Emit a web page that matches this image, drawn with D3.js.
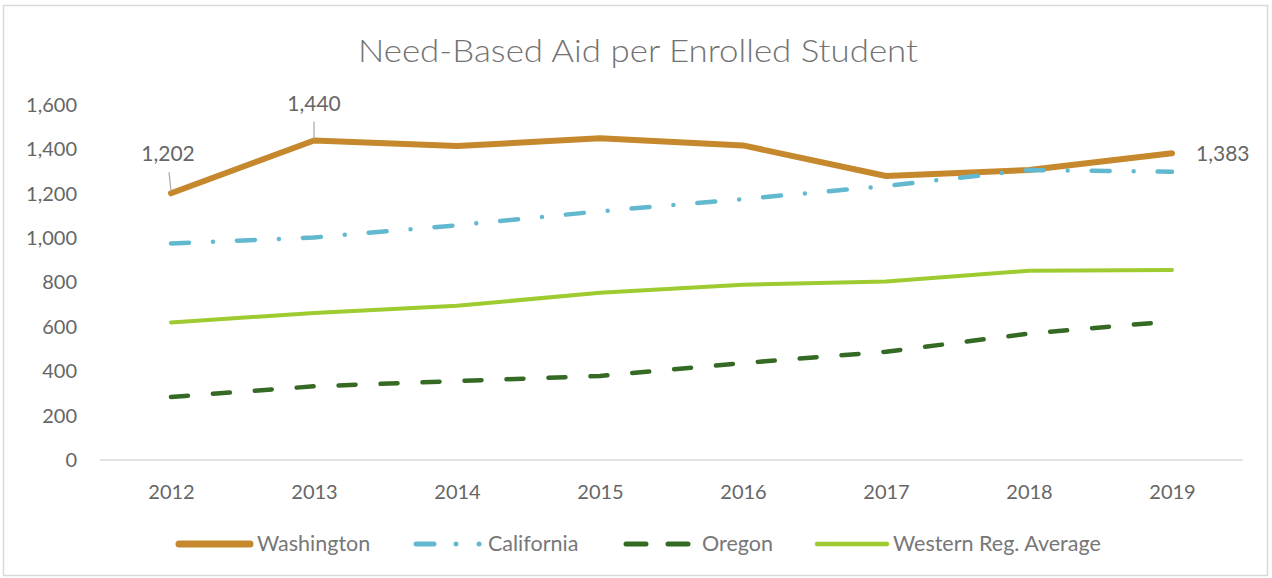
<!DOCTYPE html>
<html>
<head>
<meta charset="utf-8">
<script src="https://cdn.jsdelivr.net/npm/d3@7/dist/d3.min.js"></script>
<style>
  html, body { margin: 0; padding: 0; background: #fff; }
  svg { display: block; font-family: Lato, "Open Sans", sans-serif; }
</style>
</head>
<body>
<svg id="chart" width="1272" height="578"></svg>
<script>
const years = ["2012", "2013", "2014", "2015", "2016", "2017", "2018", "2019"];
const washington = [1202, 1440, 1415, 1450, 1418, 1280, 1307, 1383];
const california = [976, 1003, 1058, 1121, 1176, 1235, 1307, 1299];
const oregon = [284, 332, 356, 379, 437, 488, 570, 625];
const western = [620, 663, 695, 754, 790, 804, 853, 856];
const yTicks = [0, 200, 400, 600, 800, 1000, 1200, 1400, 1600];
const title = "Need-Based Aid per Enrolled Student";
const seriesNames = ["Washington", "California", "Oregon", "Western Reg. Average"];

const series = [
  { name: seriesNames[0], values: washington, color: "#C5882C", width: 6, dash: null },
  { name: seriesNames[1], values: california, color: "#62B9CF", width: 4.5, dash: "18,24,0,24" },
  { name: seriesNames[2], values: oregon, color: "#346A24", width: 4.5, dash: "17,25" },
  { name: seriesNames[3], values: western, color: "#9ECB30", width: 4, dash: null }
];

const svg = d3.select("#chart");

// chart border
svg.append("rect")
  .attr("x", 3.5).attr("y", 5.5).attr("width", 1264).attr("height", 570)
  .attr("fill", "#fff").attr("stroke", "#d9d9d9").attr("stroke-width", 1.5);

const x = d3.scalePoint().domain(years).range([171, 1172]);
const y = d3.scaleLinear().domain([0, 1600]).range([460, 105]);

// title
svg.append("text")
  .attr("x", 638).attr("y", 62)
  .attr("text-anchor", "middle")
  .attr("font-size", 32)
  .attr("font-weight", 300)
  .attr("fill", "#737373")
  .attr("textLength", 560)
  .attr("lengthAdjust", "spacingAndGlyphs")
  .text(title);

// y axis labels
const yAxis = d3.axisLeft(y).tickValues(yTicks).tickFormat(d3.format(",")).tickSize(0).tickPadding(0);
const yg = svg.append("g").attr("transform", "translate(77,0)").call(yAxis);
yg.select(".domain").remove();
yg.selectAll("text").attr("font-size", 20).attr("fill", "#666").attr("font-family", "Lato, sans-serif");

// x axis
const xAxis = d3.axisBottom(x).tickSize(0).tickPadding(0);
const xg = svg.append("g").attr("transform", "translate(0,460)").call(xAxis);
xg.select(".domain").remove();
xg.selectAll("text").attr("dy", 0).attr("y", 39).attr("font-size", 20).attr("fill", "#666").attr("font-family", "Lato, sans-serif");
svg.append("line")
  .attr("x1", 100).attr("x2", 1243).attr("y1", y(0)).attr("y2", y(0))
  .attr("stroke", "#d9d9d9").attr("stroke-width", 1.5);

// lines
const line = d3.line().x((d, i) => x(years[i])).y(d => y(d));
const drawOrder = [3, 2, 0, 1];
drawOrder.forEach(k => {
  const s = series[k];
  svg.append("path")
    .datum(s.values)
    .attr("d", line)
    .attr("fill", "none")
    .attr("stroke", s.color)
    .attr("stroke-width", s.width)
    .attr("stroke-linecap", "round")
    .attr("stroke-linejoin", "round")
    .attr("stroke-dasharray", s.dash);
});

// data labels with leader lines
function fmt(v) { return d3.format(",")(v); }
// 2012
svg.append("line")
  .attr("x1", x(years[0]) - 2).attr("y1", y(washington[0]) - 21)
  .attr("x2", x(years[0])).attr("y2", y(washington[0]) - 2)
  .attr("stroke", "#a6a6a6").attr("stroke-width", 1.2);
svg.append("text")
  .attr("x", x(years[0]) - 3).attr("y", y(washington[0]) - 32)
  .attr("text-anchor", "middle").attr("font-size", 21).attr("fill", "#666")
  .text(fmt(washington[0]));
// 2013
svg.append("line")
  .attr("x1", x(years[1])).attr("y1", y(washington[1]) - 19)
  .attr("x2", x(years[1])).attr("y2", y(washington[1]) - 1)
  .attr("stroke", "#a6a6a6").attr("stroke-width", 1.2);
svg.append("text")
  .attr("x", x(years[1])).attr("y", y(washington[1]) - 30)
  .attr("text-anchor", "middle").attr("font-size", 21).attr("fill", "#666")
  .text(fmt(washington[1]));
// 2019
svg.append("text")
  .attr("x", x(years[7]) + 24).attr("y", y(washington[7]) + 8)
  .attr("text-anchor", "start").attr("font-size", 21).attr("fill", "#666")
  .text(fmt(washington[7]));

// legend
const legendX = [179, 416, 626, 817];
const legendTextX = [257, 488, 702, 893];
const legendLen = [71, 67, 63, 70];
const legendDash = [null, "18,22,0,23,0,100", "20,22", null];
const legendY = 544;
series.forEach((s, i) => {
  const lx = legendX[i];
  svg.append("line")
    .attr("x1", lx).attr("x2", lx + legendLen[i])
    .attr("y1", legendY).attr("y2", legendY)
    .attr("stroke", s.color)
    .attr("stroke-width", s.width + (i === 0 ? 1 : 0.5))
    .attr("stroke-linecap", "round")
    .attr("stroke-dasharray", legendDash[i]);
  svg.append("text")
    .attr("x", legendTextX[i])
    .attr("y", legendY + 7)
    .attr("font-size", 21.5).attr("fill", "#777")
    .text(s.name);
});
</script>
</body>
</html>
